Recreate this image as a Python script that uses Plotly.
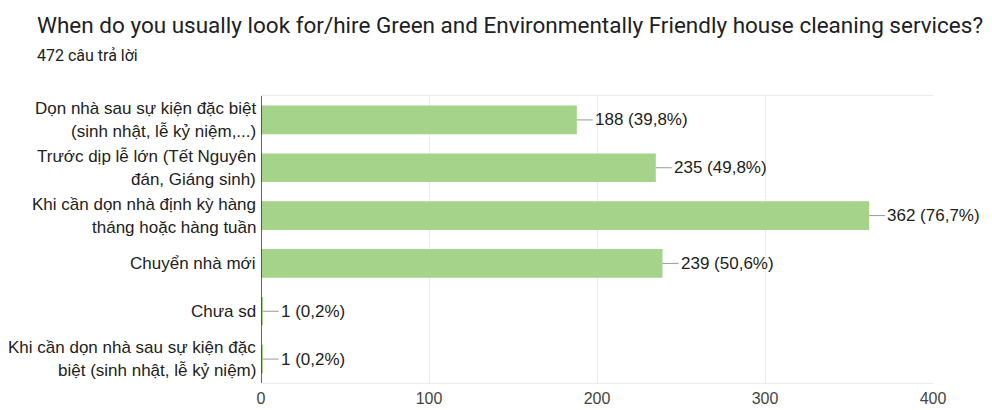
import plotly.graph_objects as go

title = "When do you usually look for/hire Green and Environmentally Friendly house cleaning services?"
subtitle = "472 câu trả lời"
categories = [
    "Dọn nhà sau sự kiện đặc biệt<br>(sinh nhật, lễ kỷ niệm,...)",
    "Trước dịp lễ lớn (Tết Nguyên<br>đán, Giáng sinh)",
    "Khi cần dọn nhà định kỳ hàng<br>tháng hoặc hàng tuần",
    "Chuyển nhà mới",
    "Chưa sd",
    "Khi cần dọn nhà sau sự kiện đặc<br>biệt (sinh nhật, lễ kỷ niệm)",
]
counts = [188, 235, 362, 239, 1, 1]
percents = ["39,8%", "49,8%", "76,7%", "50,6%", "0,2%", "0,2%"]
x_ticks = [0, 100, 200, 300, 400]

BAR = "#a5d38a"
FONT = "Liberation Sans, Arial, sans-serif"
W, H = 992, 410
ML, MR, MT, MB = 261, 59, 96, 27
PW, PH = W - ML - MR, H - MT - MB

fig = go.Figure()
fig.add_trace(go.Bar(
    x=counts, y=list(range(len(categories))), orientation="h",
    marker=dict(color=BAR, line=dict(width=0)), width=0.6,
    hoverinfo="skip",
))

annotations = []
shapes = []
LINE_H = 23
for i, (cat, c, p) in enumerate(zip(categories, counts, percents)):
    lines = cat.split("<br>")
    n = len(lines)
    for j, ln in enumerate(lines):
        off = (j - (n - 1) / 2) * LINE_H
        annotations.append(dict(
            x=0, xref="paper", y=i, yref="y", text=ln, showarrow=False,
            xanchor="right", yanchor="middle", xshift=-3, yshift=-off,
            font=dict(family=FONT, size=17, color="#222222"),
        ))
    shapes.append(dict(
        type="line", xref="x", yref="y", xsizemode="pixel", xanchor=c,
        x0=0, x1=16, y0=i, y1=i, line=dict(color="#999999", width=1),
    ))
    annotations.append(dict(
        x=c, xref="x", y=i, yref="y", text=f"{c} ({p})", showarrow=False,
        xanchor="left", yanchor="middle", xshift=16,
        font=dict(family=FONT, size=17, color="#222222"),
    ))

annotations.append(dict(
    x=-(ML - 35) / PW, xref="paper", y=1 + (MT - 25) / PH, yref="paper",
    text=title, showarrow=False, xanchor="left", yanchor="middle",
    font=dict(family="Roboto, sans-serif", size=22.5, color="#202124"),
))
annotations.append(dict(
    x=-(ML - 35) / PW, xref="paper", y=1 + (MT - 55) / PH, yref="paper",
    text=subtitle, showarrow=False, xanchor="left", yanchor="middle",
    font=dict(family="Roboto, sans-serif", size=16, color="#202124"),
))

shapes.append(dict(type="line", xref="x", yref="paper", x0=0, x1=0, y0=0, y1=1,
                   line=dict(color="#333333", width=1.5)))

fig.update_layout(
    width=W, height=H,
    margin=dict(l=ML, r=MR, t=MT, b=MB, autoexpand=False),
    paper_bgcolor="white", plot_bgcolor="white",
    showlegend=False,
    xaxis=dict(
        range=[0, 400], tickvals=x_ticks, ticktext=[str(t) for t in x_ticks],
        showgrid=True, gridcolor="#ebebeb", gridwidth=1,
        showline=True, linecolor="#ebebeb", linewidth=1, mirror=True,
        zeroline=False, ticks="", ticklabelstandoff=1, automargin=False,
        tickfont=dict(family=FONT, size=16, color="#444444"),
        fixedrange=True,
    ),
    yaxis=dict(
        range=[len(categories) - 0.5, -0.5], automargin=False,
        showticklabels=False, showgrid=False, zeroline=False,
        showline=False, ticks="", fixedrange=True,
    ),
    annotations=annotations,
    shapes=shapes,
)

fig.write_html("out.html")
